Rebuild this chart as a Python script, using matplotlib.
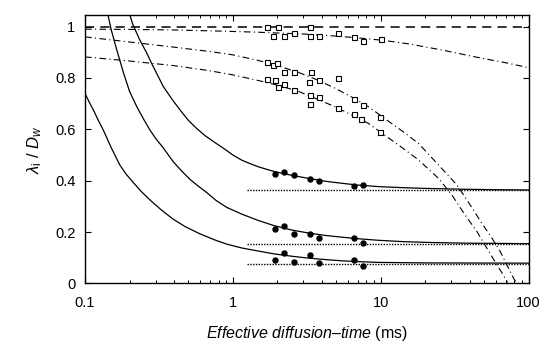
import numpy as np
import matplotlib
matplotlib.use("Agg")
import matplotlib.pyplot as plt
from matplotlib.ticker import LogLocator, NullFormatter, FixedLocator

plt.rcParams['font.family'] = ['Liberation Sans', 'DejaVu Sans']
plt.rcParams['mathtext.fontset'] = 'custom'
plt.rcParams['mathtext.rm'] = 'Liberation Sans'
plt.rcParams['mathtext.it'] = 'Liberation Sans:italic'

# --- fitted model curves (diffusion time in ms, normalised eigenvalue) ---
fit_a_t = [0.195, 0.21, 0.235, 0.26, 0.282, 0.31, 0.339, 0.39, 0.44, 0.50, 0.57, 0.65, 0.75,
           0.885, 1.0, 1.148, 1.3, 1.49, 1.7, 1.93, 2.5, 3.25, 4.2, 5.46, 7.0, 9.66, 14, 20, 35, 60, 100]
fit_a_v = [1.07, 1.01, 0.947, 0.90, 0.857, 0.81, 0.766, 0.715, 0.675, 0.635, 0.603, 0.575, 0.550,
           0.522, 0.500, 0.480, 0.467, 0.454, 0.444, 0.435, 0.421, 0.409, 0.398, 0.390, 0.383, 0.377,
           0.373, 0.370, 0.367, 0.365, 0.364]

fit_b_t = [0.140, 0.150, 0.164, 0.182, 0.20, 0.224, 0.25, 0.275, 0.30, 0.336, 0.395, 0.45, 0.513,
           0.58, 0.665, 0.77, 0.91, 1.148, 1.49, 1.9, 2.5, 3.2, 4.21, 5.5, 7.06, 9.66, 14, 20, 35, 60, 100]
fit_b_v = [1.07, 0.99, 0.909, 0.820, 0.748, 0.688, 0.638, 0.597, 0.565, 0.530, 0.474, 0.438, 0.405,
           0.380, 0.354, 0.323, 0.296, 0.270, 0.245, 0.225, 0.208, 0.197, 0.187, 0.180, 0.174, 0.168,
           0.163, 0.160, 0.157, 0.156, 0.155]

fit_c_t = [0.100, 0.107, 0.114, 0.123, 0.133, 0.150, 0.172, 0.19, 0.212, 0.24, 0.275, 0.33, 0.395,
           0.48, 0.600, 0.75, 0.91, 1.15, 1.49, 1.9, 2.50, 3.2, 4.21, 5.5, 7.06, 9.66, 20, 100]
fit_c_v = [0.740, 0.705, 0.675, 0.635, 0.597, 0.530, 0.461, 0.425, 0.393, 0.358, 0.325, 0.285, 0.250,
           0.220, 0.193, 0.170, 0.153, 0.138, 0.126, 0.115, 0.106, 0.099, 0.093, 0.088, 0.085, 0.082,
           0.080, 0.079]

# long-time limits
limit_t = [1.25, 100]
limit_a = [0.362, 0.362]
limit_b = [0.154, 0.154]
limit_c = [0.077, 0.077]

# free-diffusion reference
free_t = [0.1, 100]
free_v = [1.0, 1.0]

# decaying components
decay_1_t = [0.1, 0.2, 0.4, 0.886, 1.5, 3.07, 5.0, 7.06, 10.2, 15.4, 25.9, 43.5, 73.1, 100]
decay_1_v = [0.990, 0.989, 0.987, 0.982, 0.978, 0.971, 0.963, 0.956, 0.947, 0.933, 0.909, 0.882, 0.857, 0.840]

decay_2_t = [0.1, 0.2, 0.4, 0.7, 1.0, 1.49, 2.0, 2.77, 3.7, 4.91, 6.4, 8.26, 11.0, 14.0, 18.0, 24.6,
             32.8, 40.3, 48.3, 56.5, 64.3, 71.3, 79.1, 82.5]
decay_2_v = [0.960, 0.940, 0.920, 0.903, 0.890, 0.868, 0.848, 0.822, 0.793, 0.760, 0.725, 0.688, 0.636,
             0.593, 0.545, 0.461, 0.383, 0.305, 0.234, 0.176, 0.124, 0.072, 0.020, 0.004]

decay_3_t = [0.1, 0.2, 0.4, 0.7, 1.0, 1.49, 2.0, 2.77, 3.7, 4.91, 6.4, 8.26, 11.0, 14.0, 18.0, 24.6,
             30.3, 37.2, 44.7, 52.2, 61.1, 69.5, 72.0]
decay_3_v = [0.882, 0.866, 0.848, 0.828, 0.812, 0.790, 0.772, 0.748, 0.718, 0.688, 0.655, 0.623, 0.571,
             0.528, 0.481, 0.409, 0.344, 0.266, 0.202, 0.137, 0.072, 0.020, 0.004]

# --- measured eigenvalues (filled circles) ---
meas_t = [1.93, 2.22, 2.57, 3.33, 3.83, 6.64, 7.64]
meas_a = [0.425, 0.433, 0.422, 0.405, 0.399, 0.381, 0.383]
meas_b = [0.212, 0.222, 0.191, 0.194, 0.178, 0.176, 0.158]
meas_c = [0.091, 0.120, 0.085, 0.110, 0.080, 0.090, 0.067]

# --- measured components (open squares) ---
sq1_t = [1.70, 1.88, 2.02, 2.20, 2.57, 3.30, 3.30, 3.83, 5.13, 6.64, 7.64, 10.1]
sq1_v = [0.997, 0.964, 0.997, 0.964, 0.977, 0.997, 0.962, 0.962, 0.977, 0.960, 0.943, 0.950]

sq2_t = [1.70, 1.87, 2.00, 2.20, 2.57, 3.37, 3.25, 3.80, 5.13, 6.60, 7.64, 9.9]
sq2_v = [0.863, 0.850, 0.857, 0.824, 0.824, 0.824, 0.785, 0.792, 0.798, 0.717, 0.693, 0.648]

sq3_t = [1.70, 1.93, 2.02, 2.20, 2.57, 3.33, 3.33, 3.83, 5.13, 6.64, 7.40, 9.9]
sq3_v = [0.795, 0.792, 0.763, 0.776, 0.753, 0.735, 0.700, 0.724, 0.682, 0.661, 0.642, 0.591]

x_ticks = [0.1, 1, 10, 100]
x_tick_labels = ["0.1", "1", "10", "100"]
y_ticks = [0, 0.2, 0.4, 0.6, 0.8, 1.0]
y_tick_labels = ["0", "0.2", "0.4", "0.6", "0.8", "1"]

fig = plt.figure(figsize=(5.45, 3.44), dpi=100)
ax = fig.add_axes([0.156, 0.176, 0.814, 0.781])

lw = 0.9
for t, v in [(fit_a_t, fit_a_v), (fit_b_t, fit_b_v), (fit_c_t, fit_c_v)]:
    ax.plot(t, v, color='black', lw=lw)
for v in (limit_a, limit_b, limit_c):
    ax.plot(limit_t, v, color='black', lw=1.0, linestyle=(0, (1, 1)))
ax.plot(free_t, free_v, color='black', lw=1.1, linestyle=(0, (6, 4)))
for t, v in [(decay_1_t, decay_1_v), (decay_2_t, decay_2_v), (decay_3_t, decay_3_v)]:
    ax.plot(t, v, color='black', lw=0.8, linestyle=(0, (6, 3, 1, 3)))

for v in (meas_a, meas_b, meas_c):
    ax.plot(meas_t, v, linestyle='none', marker='o', ms=3.6, color='black')
for t, v in [(sq1_t, sq1_v), (sq2_t, sq2_v), (sq3_t, sq3_v)]:
    ax.plot(t, v, linestyle='none', marker='s', ms=3.6, mfc='white', mec='black', mew=0.8)

ax.set_xscale('log')
ax.set_xlim(0.1, 100)
ax.set_ylim(0, 1.046)
ax.xaxis.set_major_locator(FixedLocator(x_ticks))
ax.set_xticklabels(x_tick_labels)
ax.xaxis.set_minor_locator(LogLocator(base=10, subs=np.arange(2, 10)))
ax.xaxis.set_minor_formatter(NullFormatter())
ax.set_yticks(y_ticks)
ax.set_yticklabels(y_tick_labels)

ax.tick_params(which='major', direction='in', length=4, width=0.8,
               top=True, right=True, labelsize=10.5)
ax.tick_params(axis='x', which='major', pad=9)
ax.tick_params(axis='y', which='major', pad=7)
ax.tick_params(which='minor', direction='in', length=2.2, width=0.7, top=True)
for s in ax.spines.values():
    s.set_linewidth(1.0)

ax.set_xlabel(r"$\mathit{Effective\ diffusion}$" + "\u2013" + r"$\mathit{time}$ (ms)",
              fontsize=11.5, labelpad=10)
ax.set_ylabel(r"$\lambda_{\mathrm{i}}$ / $D_w$", fontsize=12, labelpad=8)

fig.savefig("out.png", dpi=100)
